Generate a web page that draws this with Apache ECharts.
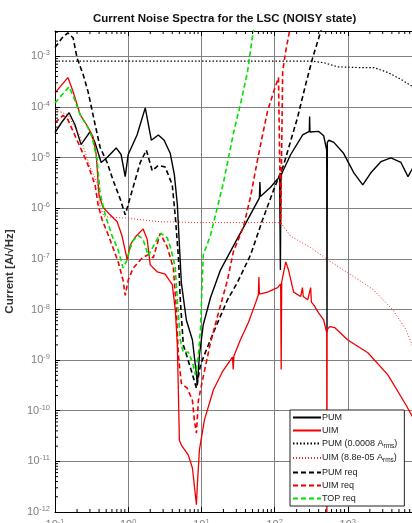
<!DOCTYPE html>
<html>
<head>
<meta charset="utf-8">
<script src="https://cdn.jsdelivr.net/npm/echarts@6/dist/echarts.min.js"></script>
<style>
html, body { margin: 0; padding: 0; background: #fff; }
#chart { width: 412px; height: 523px; }
</style>
</head>
<body>
<div id="chart"></div>
<script>
// spectra, [frequency Hz, current A/rtHz]
var pum = [
  [0.1,3.1e-5],[0.125,5.1e-5],[0.156,7.7e-5],[0.188,4.4e-5],[0.227,1.8e-5],[0.266,2.5e-5],
  [0.30,3.2e-5],[0.353,1.95e-5],[0.427,8e-6],[0.515,1e-5],[0.685,1.55e-5],[0.80,1.15e-5],
  [0.91,4.2e-6],[1.0,1.15e-5],[1.32,2.8e-5],[1.71,9.6e-5],[2.07,2.2e-5],[2.58,2.8e-5],
  [3.1,2.2e-5],[3.76,1.2e-5],[4.27,4.6e-6],[4.69,1.2e-6],[5.0,1.9e-7],[5.32,3.4e-8],
  [6.23,6.2e-9],[7.54,2.5e-9],[8.55,5.2e-10],[8.8,3.2e-10],[9.4,1.26e-9],[10.6,5e-9],
  [13.3,1.7e-8],[18.2,6e-8],[26.6,1.66e-7],[42.7,5.9e-7],[62,1.6e-6],[63,3.3e-6],[64,1.7e-6],
  [88,2.6e-6],[117,4.2e-6],[120,6e-8],[122,4.4e-6],[129,5.3e-6],[166,1.15e-5],[242,2.8e-5],
  [298,3.3e-5],[301,6.5e-5],[304,3.2e-5],[398,3.3e-5],[468,2.7e-5],[515,1.4e-5],[520,3.5e-9],
  [525,2e-5],[550,2.2e-5],[645,2e-5],[880,1.2e-5],[1210,5e-6],[1600,2.9e-6],[2065,5e-6],
  [2830,8.3e-6],[3880,9.9e-6],[5320,8e-6],[6640,4.2e-6],[7760,6.3e-6],[10000,1e-5]
];
var uim = [
  [0.1,1.9e-4],[0.125,2.8e-4],[0.15,3.8e-4],[0.177,2e-4],[0.22,7.1e-5],[0.274,4.3e-5],
  [0.331,2.6e-5],[0.365,1.15e-5],[0.40,1.8e-6],[0.454,1.03e-6],[0.566,7.4e-7],[0.707,5.4e-7],
  [0.82,2.9e-7],[0.97,9.6e-8],[1.07,1.9e-7],[1.25,2.7e-7],[1.6,3.9e-7],[1.82,2.4e-7],
  [2.0,7.6e-8],[2.5,5.5e-8],[3.2,5e-8],[4.0,3.1e-8],[4.4,9.8e-9],[4.69,2e-9],[4.84,2.6e-10],
  [5.0,2.6e-11],[5.32,2.1e-11],[6.6,1.35e-11],[7.54,7.4e-12],[8.0,3.4e-12],[8.55,1.4e-12],
  [8.8,3.4e-12],[9.4,1.7e-11],[11,6.6e-11],[14.6,2.6e-10],[19.4,5.9e-10],[26.6,1.15e-9],
  [27.2,6.5e-10],[27.8,1.2e-9],[34,2.5e-9],[44,5.6e-9],[55,1.35e-8],[60,1.95e-8],[61,4.4e-8],
  [62,2e-8],[80,2.2e-8],[110,2.7e-8],[121,3.2e-8],[123,6.5e-10],[125,3.5e-8],[142,8.7e-8],
  [155,6e-8],[182,2.2e-8],[227,1.8e-8],[240,2.7e-8],[246,1.8e-8],[283,1.55e-8],[311,2.7e-8],
  [318,1.4e-8],[342,1.23e-8],[401,8.5e-9],[468,6.2e-9],[515,3.5e-9],[518,5e-13],[522,4e-9],
  [566,4.6e-9],[661,4.4e-9],[1000,2.5e-9],[1880,1.4e-9],[3530,5.1e-10],[6240,1.3e-10],
  [7760,7.3e-11],[10000,3.5e-11]
];
var pumRms = [
  [0.1,8e-4],[331,8e-4],[468,7.5e-4],[730,6.2e-4],[1370,6e-4],[2270,6e-4],[3530,4.8e-4],
  [5320,3.5e-4],[7760,2.5e-4],[10000,1.8e-4]
];
var uimRms = [
  [0.1,8.8e-5],[0.15,7e-5],[0.22,2.6e-5],[0.30,6.6e-6],[0.376,3.2e-6],[0.413,1.07e-6],
  [0.47,6.8e-7],[0.91,6.4e-7],[2.74,5.4e-7],[9.6,5.2e-7],[121,5.2e-7],[166,2.8e-7],
  [311,1.66e-7],[532,9.6e-8],[1000,5.3e-8],[2200,2.5e-8],[4130,9.8e-9],[6240,4e-9],
  [7760,1.8e-9],[10000,6e-10]
];
var pumReq = [
  [0.1,1.5e-3],[0.125,2.3e-3],[0.15,2.9e-3],[0.177,2.3e-3],[0.2,9.3e-4],[0.242,4.4e-4],
  [0.283,2e-4],[0.353,4.5e-5],[0.413,1.6e-5],[0.515,8e-6],[0.62,3.6e-6],[0.78,1.5e-6],
  [0.91,7.4e-7],[1.14,2.3e-6],[1.46,8e-6],[1.77,1.4e-5],[2.13,5.5e-6],[2.58,7e-6],
  [3.2,6.5e-6],[4.0,2.9e-6],[4.4,6.8e-7],[4.85,1.1e-7],[5.15,1.55e-8],[5.66,2e-9],
  [7.1,7e-10],[8.55,2.8e-10],[9.7,8e-10],[11.7,1.6e-9],[14.6,3.5e-9],[22.7,1.55e-8],
  [31,3.4e-8],[47,1.2e-7],[68.5,5.9e-7],[97,2.3e-6],[133,7.2e-6],[206,6.2e-5],[266,2.8e-4],
  [331,9.3e-4],[427,3.1e-3],[480,5e-3]
];
var uimReq = [
  [0.1,4.9e-5],[0.129,6.8e-5],[0.15,5.6e-5],[0.2,2.2e-5],[0.274,8e-6],[0.353,2.9e-6],
  [0.388,1.17e-6],[0.44,5.9e-7],[0.515,3.4e-7],[0.62,1.66e-7],[0.73,8.7e-8],[0.85,3.8e-8],
  [0.91,1.9e-8],[1.0,3.8e-8],[1.17,6.6e-8],[1.56,1.05e-7],[1.88,1.2e-7],[2.2,1.05e-7],
  [2.74,3.2e-7],[3.42,1.7e-7],[4.14,6.6e-8],[4.55,9.8e-9],[4.84,1.26e-9],[5.32,3.5e-10],
  [6.4,2.8e-10],[7.54,1.6e-10],[8.0,6.6e-11],[8.55,3.6e-11],[9.1,1.6e-10],[10.6,4.7e-10],
  [13.3,2.2e-9],[16.5,7.1e-9],[22.7,3.8e-8],[27.4,1.4e-7],[37.6,4.3e-7],[47,1.7e-6],
  [58.5,9.1e-6],[68.5,2.8e-5],[80,8.2e-5],[97,2e-4],[113,3.8e-4],[121,4.7e-7],[129,5e-4],
  [141,1.2e-3],[166,4.2e-3]
];
var topReq = [
  [0.1,1.2e-4],[0.125,1.74e-4],[0.156,2.5e-4],[0.182,1.5e-4],[0.22,7.1e-5],[0.274,4.2e-5],
  [0.32,2.6e-5],[0.376,9.1e-6],[0.413,2e-6],[0.485,7.4e-7],[0.60,2.9e-7],[0.73,1.5e-7],
  [0.85,6.6e-8],[0.94,8.7e-8],[1.14,2.2e-7],[1.37,2.9e-7],[1.6,2.4e-7],[1.88,1.15e-7],
  [2.34,2.1e-7],[2.8,3.2e-7],[3.42,2.6e-7],[3.87,1.5e-7],[4.4,6.6e-8],[4.69,1.55e-8],
  [5.15,2.5e-9],[5.66,1.4e-9],[6.6,1.45e-9],[7.54,9.1e-10],[8.3,5.1e-10],[9.1,1.26e-9],
  [9.7,4e-9],[10.6,1.2e-7],[13.3,2.9e-7],[20,3.2e-6],[27.5,3.1e-5],[34,1.1e-4],
  [42.7,5e-4],[51,3.1e-3],[56,5e-3]
];

var legendNames = ['PUM', 'UIM', 'PUM (0.0008 A_rms)', 'UIM (8.8e-05 A_rms)', 'PUM req', 'UIM req', 'TOP req'];

// minor ticks for the log axes (2..9 in each decade)
var xDecades = [0.1, 1, 10, 100, 1000];
var yDecades = [1e-12, 1e-11, 1e-10, 1e-9, 1e-8, 1e-7, 1e-6, 1e-5, 1e-4, 1e-3];
var minorMult = [2, 3, 4, 5, 6, 7, 8, 9];
var xMinor = [], yMinor = [];
xDecades.forEach(function (d) { minorMult.forEach(function (m) { xMinor.push([d * m, 1e-12]); }); });
yDecades.forEach(function (d) { minorMult.forEach(function (m) { if (d * m < 3.1e-3) yMinor.push([0.1, d * m]); }); });

var chart = echarts.init(document.getElementById('chart'));

function powLabel(v) {
  var e = Math.round(Math.log10(v));
  return '{b|10}{s|' + e + '}';
}
var labelRich = {
  b: { fontSize: 11, color: '#808080', fontFamily: 'Liberation Sans', lineHeight: 14 },
  s: { fontSize: 7.5, color: '#808080', fontFamily: 'Liberation Sans', verticalAlign: 'top', lineHeight: 14 }
};

function lineSeries(name, data, color, type, width) {
  return {
    name: name, type: 'line', data: data, showSymbol: false, symbol: 'none',
    lineStyle: { color: color, width: width, type: type }, itemStyle: { color: color },
    z: 3, animation: false
  };
}

function tickX(params, api) {
  var cs = params.coordSys;
  var p = api.coord([api.value(0), api.value(1)]);
  var st = { stroke: '#000', lineWidth: 1 };
  return { type: 'group', children: [
    { type: 'line', shape: { x1: p[0], y1: cs.y + cs.height, x2: p[0], y2: cs.y + cs.height - 3 }, style: st },
    { type: 'line', shape: { x1: p[0], y1: cs.y, x2: p[0], y2: cs.y + 3 }, style: st }
  ] };
}
function tickY(params, api) {
  var cs = params.coordSys;
  var p = api.coord([api.value(0), api.value(1)]);
  var st = { stroke: '#000', lineWidth: 1 };
  return { type: 'line', shape: { x1: cs.x, y1: p[1], x2: cs.x + 3, y2: p[1] }, style: st };
}

var option = {
  animation: false,
  backgroundColor: '#fff',
  title: {
    text: 'Current Noise Spectra for the LSC (NOISY state)',
    left: 88, top: 8,
    textStyle: { fontSize: 11.5, fontWeight: 'bold', color: '#111', fontFamily: 'Liberation Sans' }
  },
  grid: { left: 55, right: -9, top: 31, bottom: 11, containLabel: false, outerBoundsMode: 'none' },
  legend: {
    data: legendNames,
    orient: 'vertical',
    left: 290, top: 410,
    itemWidth: 28, itemHeight: 6, itemGap: 4,
    padding: [3, 7, 3, 2],
    backgroundColor: '#fff',
    borderColor: '#222', borderWidth: 1,
    selectedMode: false,
    itemStyle: { opacity: 0, borderWidth: 0 },
    formatter: function (n) {
      return n.replace('A_rms', 'A{sub|rms}');
    },
    textStyle: {
      fontSize: 9, color: '#222', fontFamily: 'Liberation Sans', padding: [0, 0, 0, -4],
      rich: { sub: { fontSize: 6.5, color: '#222', verticalAlign: 'bottom', padding: [5, 0, 0, 0] } }
    }
  },
  xAxis: [{
    type: 'log', min: 0.1, max: 10000, logBase: 10,
    axisLine: { show: true, lineStyle: { color: '#000', width: 1 } },
    axisTick: { show: true, inside: true, length: 5, lineStyle: { color: '#000' } },
    axisLabel: { formatter: powLabel, rich: labelRich, margin: 6 },
    splitLine: { show: true, lineStyle: { color: '#808080', width: 1 } }
  }, {
    type: 'log', min: 0.1, max: 10000, position: 'top',
    axisLine: { show: true, lineStyle: { color: '#000', width: 1 } },
    axisTick: { show: true, inside: true, length: 5, lineStyle: { color: '#000' } },
    axisLabel: { show: false }, splitLine: { show: false }
  }],
  yAxis: [{
    type: 'log', min: 1e-12, max: Math.pow(10, -2.5), logBase: 10, interval: 1,
    name: 'Current [A/\u221AHz]', nameLocation: 'middle', nameGap: 37,
    nameTextStyle: { fontSize: 11.5, fontWeight: 'bold', color: '#333', fontFamily: 'Liberation Sans' },
    axisLine: { show: true, lineStyle: { color: '#000', width: 1 } },
    axisTick: { show: true, inside: true, length: 5, lineStyle: { color: '#000' } },
    axisLabel: { formatter: powLabel, rich: labelRich, margin: 5, showMaxLabel: false },
    splitLine: { show: true, lineStyle: { color: '#808080', width: 1 } }
  }],
  series: [
    lineSeries('PUM', pum, '#000', 'solid', 1.4),
    lineSeries('UIM', uim, '#ee0000', 'solid', 1.3),
    lineSeries('PUM (0.0008 A_rms)', pumRms, '#000', [1.5, 2], 1.2),
    lineSeries('UIM (8.8e-05 A_rms)', uimRms, '#ee2222', [1, 2], 1),
    lineSeries('PUM req', pumReq, '#000', [5, 3], 1.6),
    lineSeries('UIM req', uimReq, '#ee0000', [5, 3], 1.6),
    lineSeries('TOP req', topReq, '#00e000', [5, 3], 1.6),
    { type: 'custom', data: xMinor, renderItem: tickX, silent: true, z: 5, clip: false },
    { type: 'custom', data: yMinor, renderItem: tickY, silent: true, z: 5, clip: false }
  ]
};
chart.setOption(option);
</script>
</body>
</html>
